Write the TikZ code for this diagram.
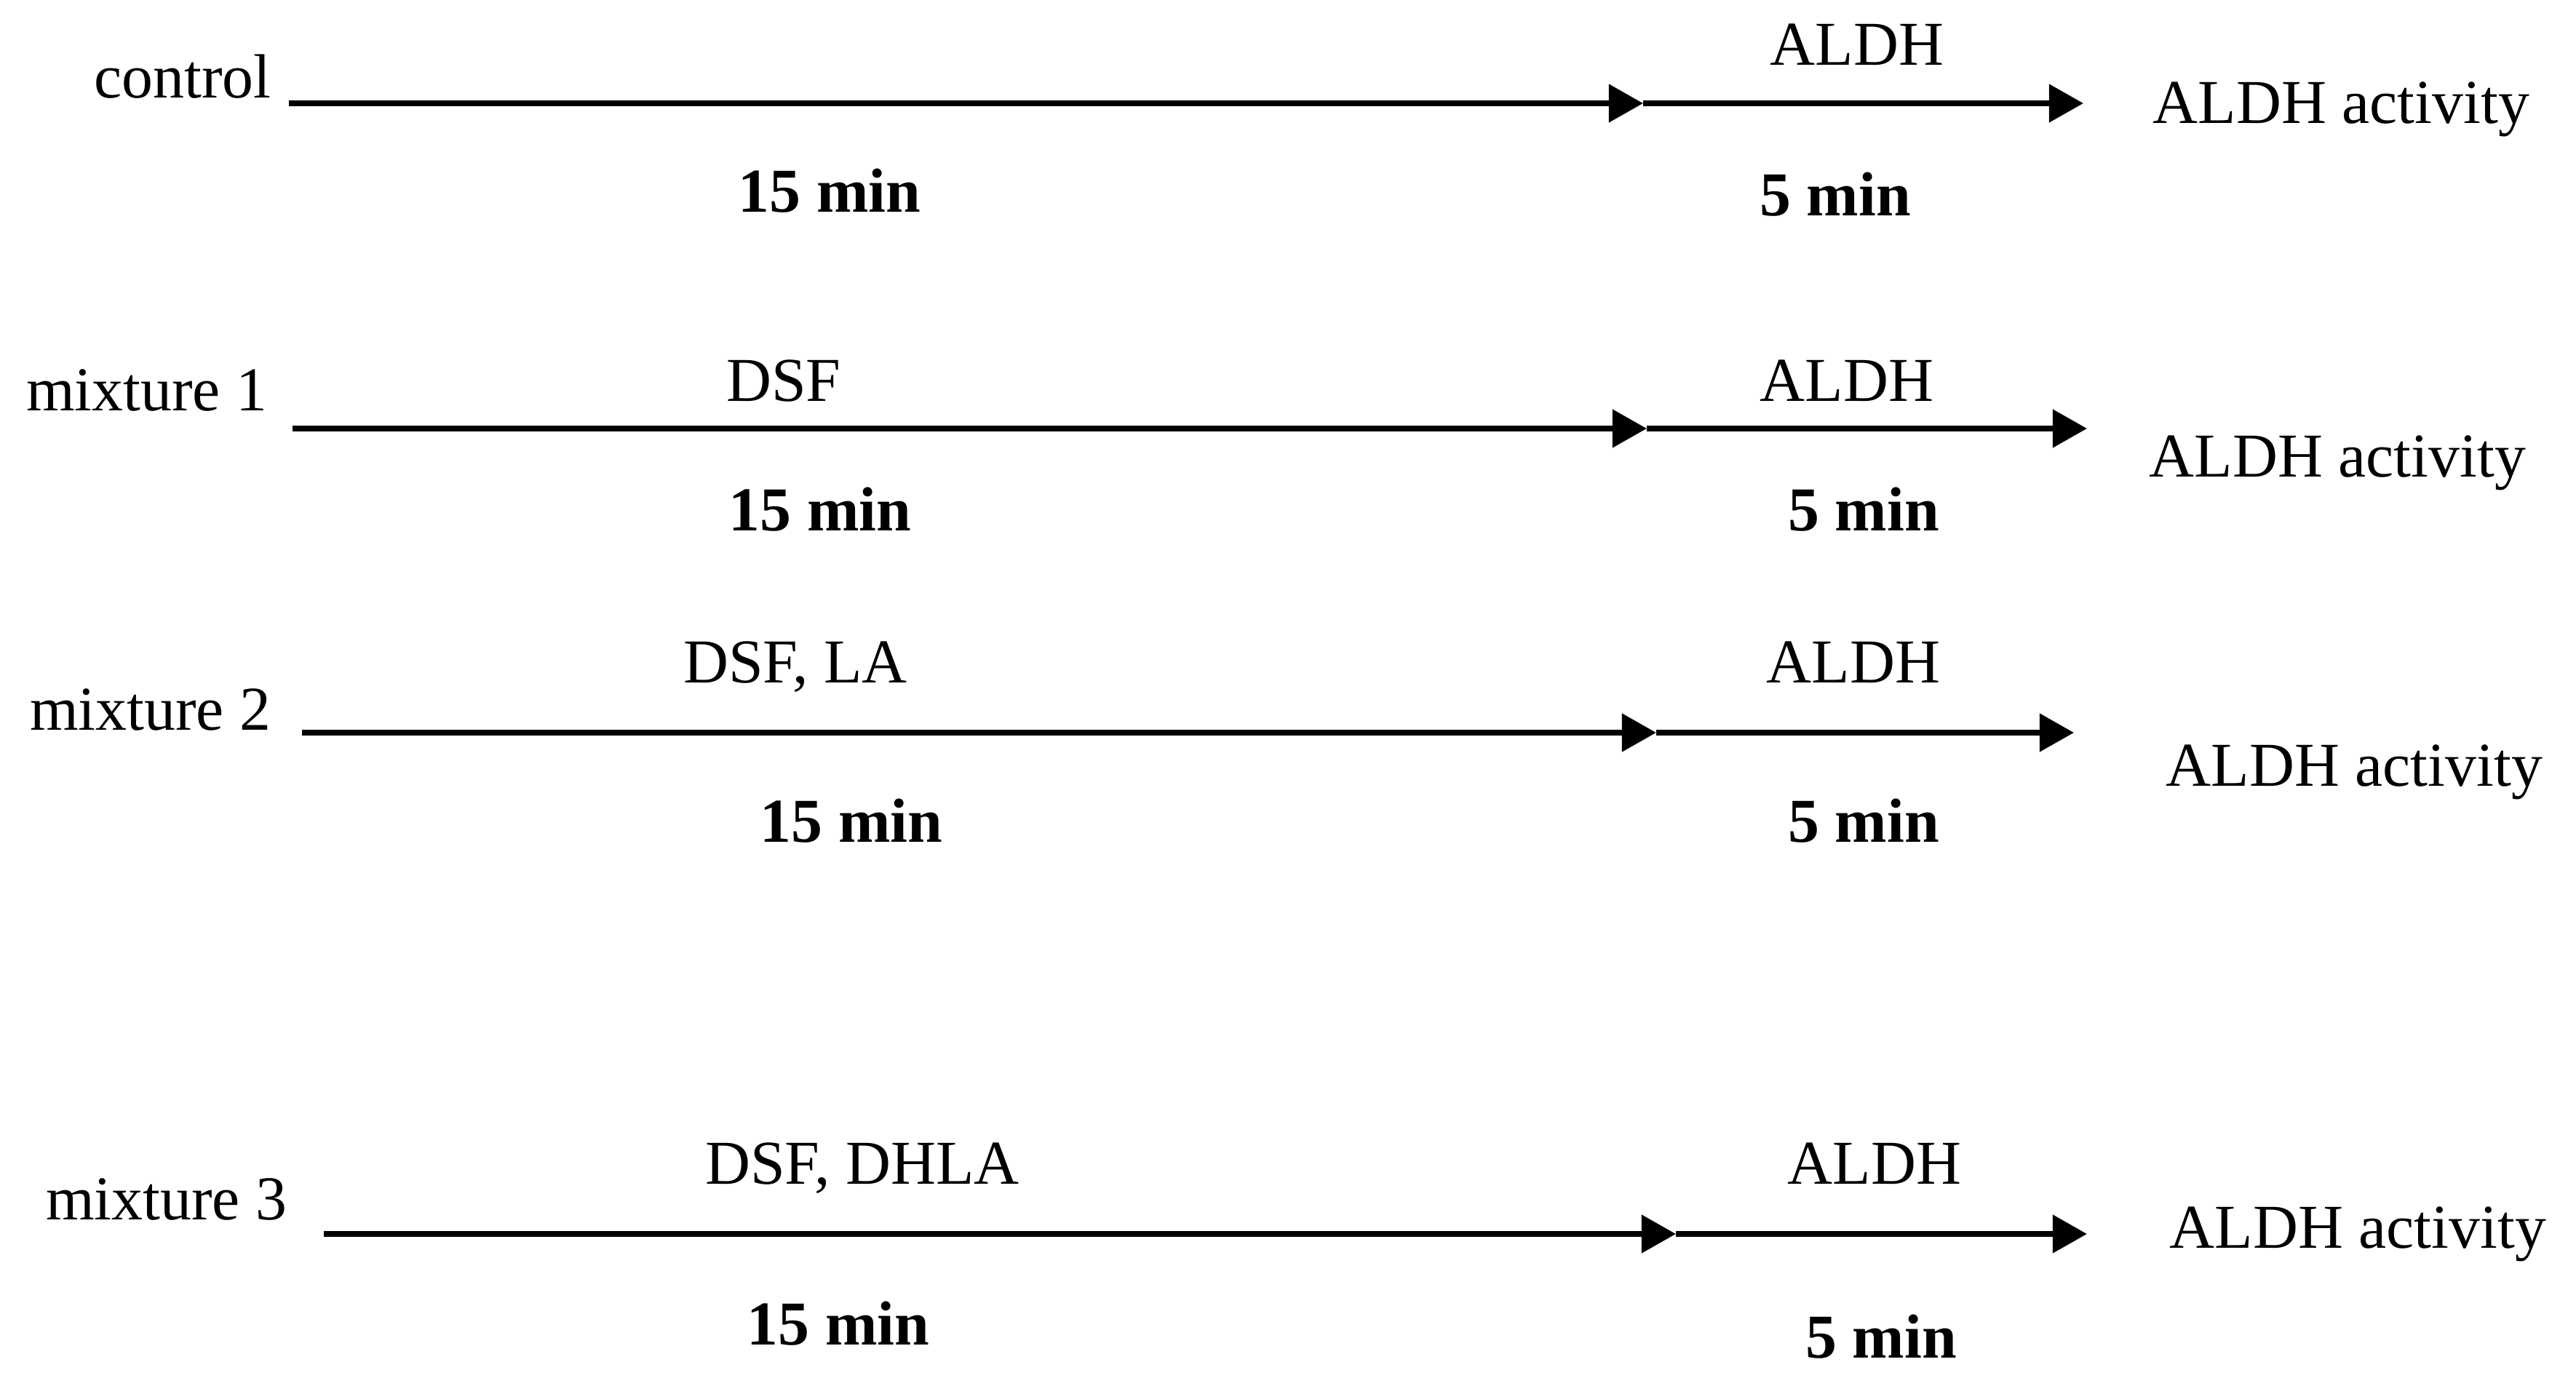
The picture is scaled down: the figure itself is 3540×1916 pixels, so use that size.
\documentclass[tikz,border=0pt]{standalone}
\usepackage{fontspec}
\setmainfont{Liberation Serif}
\usetikzlibrary{arrows.meta,positioning}
\definecolor{flowColor}{RGB}{0,0,0}
\definecolor{textColor}{RGB}{0,0,0}

\begin{document}
\begin{tikzpicture}[x=0.01cm, y=-0.01cm,
font=\fontsize{24.4pt}{29pt}\selectfont,
rowName/.style={
    inner sep=0pt, anchor=base east, text=textColor},
reagentText/.style={
    inner sep=0pt, anchor=base, text=textColor},
timeText/.style={
    inner sep=0pt, anchor=base, text=textColor,
    font=\fontsize{24.4pt}{29pt}\selectfont\bfseries},
readoutText/.style={
    inner sep=0pt, anchor=base west, text=textColor},
flowArrow/.style={
    flowColor, line width=2.28pt,
    -{Triangle[length=13.4pt, width=14.5pt]}}
]

\useasboundingbox (0,0) rectangle (3540,1916);

% control
\coordinate (ctlStart) at (397,142);
\coordinate (ctlMid)   at (2258,142);
\coordinate (ctlEnd)   at (2863,142);
\node[rowName]     (ctlName)    at (373,135)  {control};
\node[reagentText] (ctlEnzyme)  at (2552,90)  {ALDH};
\node[readoutText] (ctlReadout) at (2958,170) {ALDH activity};
\node[timeText]    (ctlFirst)   at (1140,292) {15 min};
\node[timeText]    (ctlSecond)  at (2522,297) {5 min};

% mixture 1
\coordinate (mixAStart) at (402,589);
\coordinate (mixAMid)   at (2263,589);
\coordinate (mixAEnd)   at (2868,589);
\node[rowName]     (mixAName)    at (368,565)  {mixture 1};
\node[reagentText] (mixADrug)    at (1077,552) {DSF};
\node[reagentText] (mixAEnzyme)  at (2538,552) {ALDH};
\node[readoutText] (mixAReadout) at (2953,656) {ALDH activity};
\node[timeText]    (mixAFirst)   at (1127,730) {15 min};
\node[timeText]    (mixASecond)  at (2561,730) {5 min};

% mixture 2
\coordinate (mixBStart) at (415,1007);
\coordinate (mixBMid)   at (2276,1007);
\coordinate (mixBEnd)   at (2850,1007);
\node[rowName]     (mixBName)    at (373,1003)  {mixture 2};
\node[reagentText] (mixBDrug)    at (1093,938)  {DSF, LA};
\node[reagentText] (mixBEnzyme)  at (2547,938)  {ALDH};
\node[readoutText] (mixBReadout) at (2976,1080) {ALDH activity};
\node[timeText]    (mixBFirst)   at (1170,1157) {15 min};
\node[timeText]    (mixBSecond)  at (2561,1157) {5 min};

% mixture 3
\coordinate (mixCStart) at (445,1696);
\coordinate (mixCMid)   at (2303,1696);
\coordinate (mixCEnd)   at (2868,1696);
\node[rowName]     (mixCName)    at (395,1676)  {mixture 3};
\node[reagentText] (mixCDrug)    at (1185,1627) {DSF, DHLA};
\node[reagentText] (mixCEnzyme)  at (2576,1627) {ALDH};
\node[readoutText] (mixCReadout) at (2981,1715) {ALDH activity};
\node[timeText]    (mixCFirst)   at (1152,1848) {15 min};
\node[timeText]    (mixCSecond)  at (2585,1866) {5 min};

\foreach \row in {ctl, mixA, mixB, mixC} {
    \draw[flowArrow] (\row Start)--(\row Mid);
    \draw[flowArrow] (\row Mid)--(\row End);
}

\end{tikzpicture}
\end{document}
